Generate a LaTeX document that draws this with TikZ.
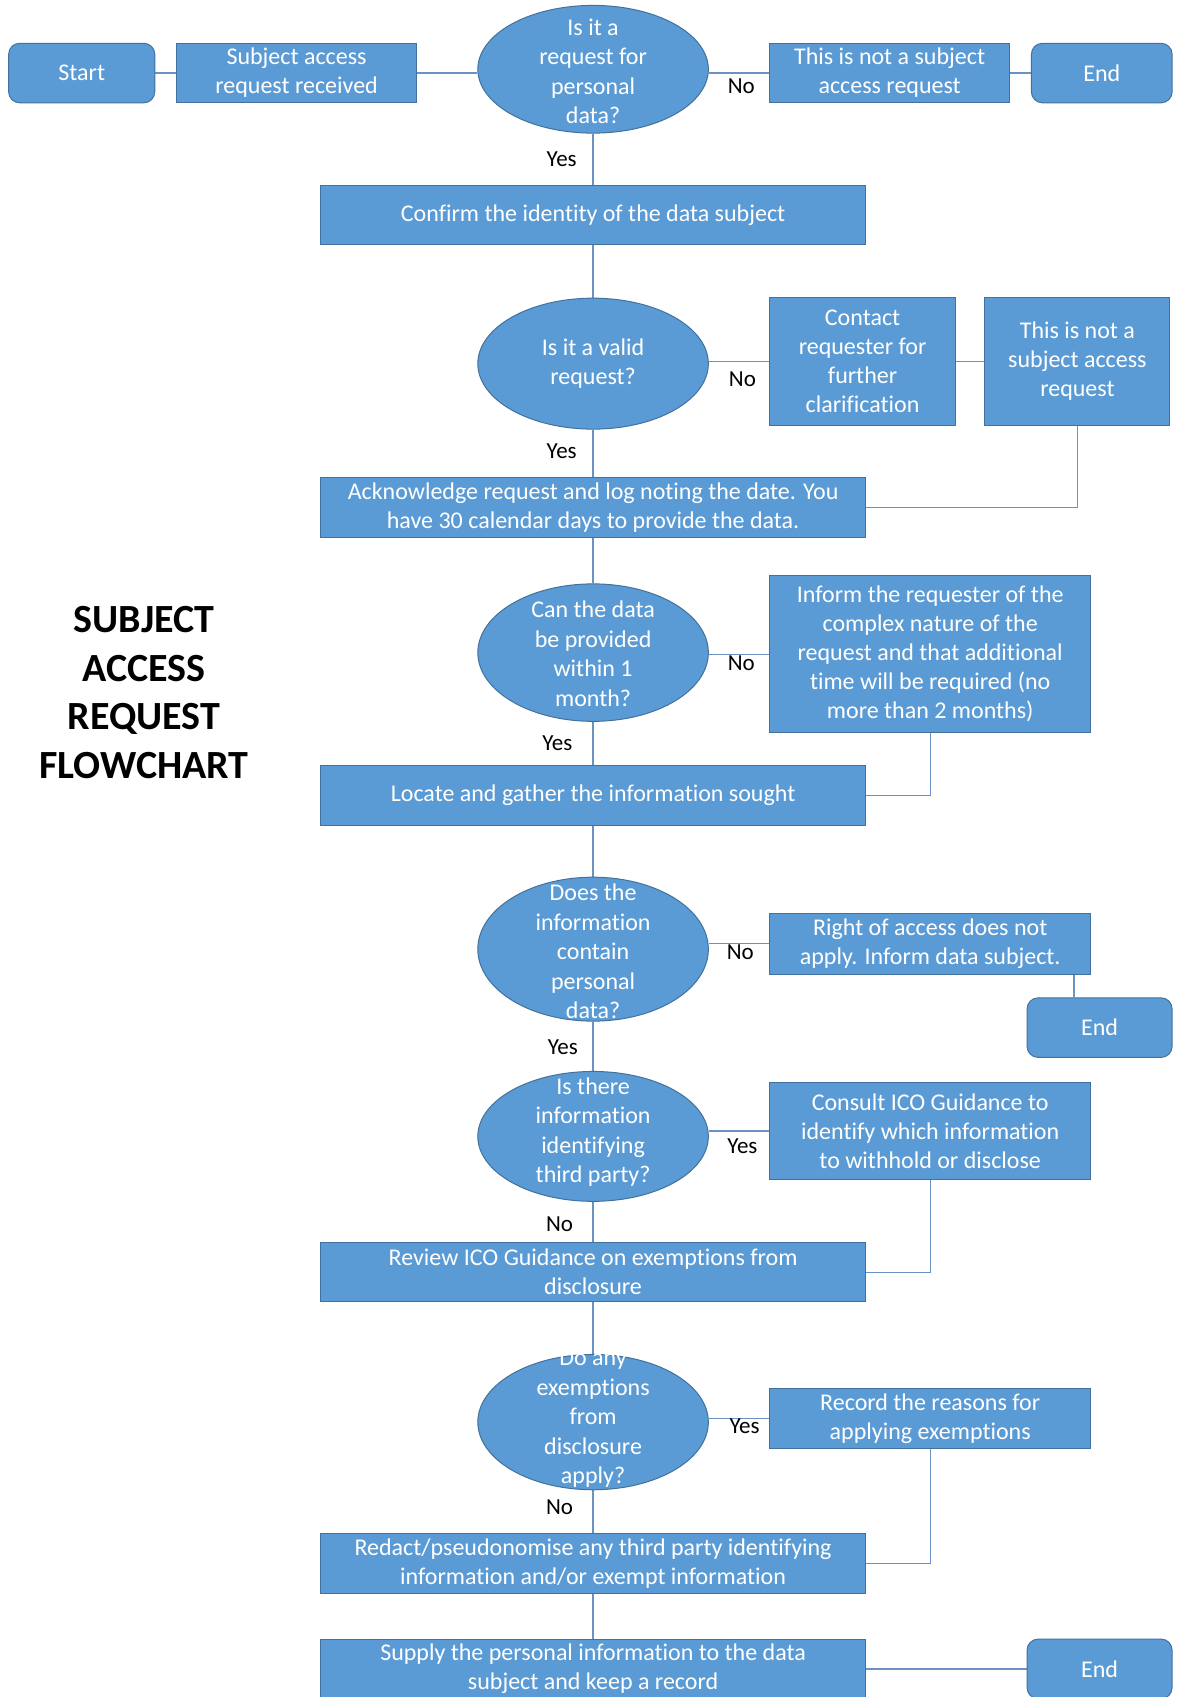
\documentclass[tikz,border=0pt]{standalone}
\usepackage{fontspec}
\setmainfont{Carlito}[Ligatures=NoCommon]
\usetikzlibrary{shapes.geometric,backgrounds}
\definecolor{boxfill}{HTML}{5B9BD5}
\definecolor{boxdraw}{HTML}{41719C}
\definecolor{conncol}{HTML}{6A93C4}
\tikzset{
 sz/.style 2 args={minimum width=#1*1.0826pt, minimum height=#2*1.0826pt},
 box/.style={rectangle, draw=boxdraw, fill=boxfill, line width=1pt, text=white, align=center, inner sep=2pt, font=\fontsize{24}{29}\selectfont},
 term/.style={box, rounded corners=11pt},
 dec/.style={ellipse, draw=boxdraw, fill=boxfill, line width=1pt, inner sep=0pt},
 dectext/.style={text=white, align=center, inner sep=0pt, font=\fontsize{24}{29.5}\selectfont},
 lab/.style={text=black, inner sep=0pt, font=\fontsize{23}{27}\selectfont},
 conn/.style={draw=conncol, line width=1.3pt},
 titletext/.style={font=\bfseries\fontsize{40}{48.5}\selectfont, align=center, inner sep=0pt}
}
\begin{document}
\begin{tikzpicture}[x=1.0826pt,y=-1.0826pt]
\useasboundingbox (0,0) rectangle (1089,1568);

% row 1
\node[term, sz={135}{55}] (start) at (75.5,67.5) {Start};
\node[box, sz={222}{55}] (sar) at (274,67.5) {Subject access\\request received};
\node[dec, sz={213}{118}] (d1) at (548,64) {};
\node[dectext] (d1t) at (548,66) {Is it a\\request for\\personal\\data?};
\node[box, sz={222}{55}] (nsar1) at (822,67.5) {This is not a subject\\access request};
\node[term, sz={130}{55}] (end1) at (1018,67.5) {End};

\node[box, sz={504}{55}] (confirm) at (548,198.5) {Confirm the identity of the data subject};

% valid request
\node[dec, sz={213}{121}] (d2) at (548,336) {};
\node[dectext] (d2t) at (548,336) {Is it a valid\\request?};
\node[box, sz={172}{118}] (contact) at (797,334) {Contact\\requester for\\further\\clarification};
\node[box, sz={171}{118}] (nsar2) at (995.5,334) {This is not a\\subject access\\request};

\node[box, sz={504}{56}] (ack) at (548,469) {Acknowledge request and log noting the date. You\\have 30 calendar days to provide the data.};

% one month
\node[dec, sz={213}{127}] (d3) at (548,603) {};
\node[dectext] (d3t) at (548,604) {Can the data\\be provided\\within 1\\month?};
\node[box, sz={297}{145}] (inform) at (859.5,604.5) {Inform the requester of the\\complex nature of the\\request and that additional\\time will be required (no\\more than 2 months)};

\node[box, sz={504}{56}] (locate) at (548,735) {Locate and gather the information sought};

% personal data
\node[dec, sz={213}{133}] (d4) at (548,877) {};
\node[dectext] (d4t) at (548,879) {Does the\\information\\contain\\personal\\data?};
\node[box, sz={297}{56}] (right) at (859.5,872) {Right of access does not\\apply. Inform data subject.};
\node[term, sz={134}{55}] (end2) at (1016,949.5) {End};

% third party
\node[dec, sz={213}{120}] (d5) at (548,1050) {};
\node[dectext] (d5t) at (548,1046) {Is there\\information\\identifying\\third party?};
\node[box, sz={297}{90}] (consult) at (859.5,1045) {Consult ICO Guidance to\\identify which information\\to withhold or disclose};

\node[box, sz={504}{55}] (review) at (548,1175.5) {Review ICO Guidance on exemptions from\\disclosure};

% exemptions
\node[dec, sz={213}{125}] (d6) at (548,1314) {};
\node[dectext] (d6t) at (548,1311) {Do any\\exemptions\\from\\disclosure\\apply?};
\node[box, sz={297}{55}] (record) at (859.5,1310.5) {Record the reasons for\\applying exemptions};

\node[box, sz={504}{55}] (redact) at (548,1444.5) {Redact/pseudonomise any third party identifying\\information and/or exempt information};
\node[box, sz={504}{55}] (supply) at (548,1542) {Supply the personal information to the data\\subject and keep a record};
\node[term, sz={134}{55}] (end3) at (1016,1542) {End};

% title
\node[titletext] (title) at (133,640) {SUBJECT\\ACCESS\\REQUEST\\FLOWCHART};

% labels
\node[lab] (l1) at (685,80) {No};
\node[lab] (l2) at (519,147) {Yes};
\node[lab] (l3) at (686,350) {No};
\node[lab] (l4) at (519,417) {Yes};
\node[lab] (l5) at (685,613) {No};
\node[lab] (l6) at (515,687) {Yes};
\node[lab] (l7) at (684,880) {No};
\node[lab] (l8) at (520,968) {Yes};
\node[lab] (l9) at (686,1059) {Yes};
\node[lab] (l10) at (517,1131) {No};
\node[lab] (l11) at (688,1318) {Yes};
\node[lab] (l12) at (517,1393) {No};

\begin{scope}[on background layer]
\fill[white] (0,0) rectangle (1089,1568);
\draw[conn] (start.east) -- (sar.west);
\draw[conn] (sar.east) -- (sar.east -| d1.west);
\draw[conn] (nsar1.west -| d1.east) -- (nsar1.west);
\draw[conn] (nsar1.east) -- (end1.west);
\draw[conn] (d1.south) -- (confirm.north);
\draw[conn] (confirm.south) -- (d2.north);
\draw[conn] (contact.west -| d2.east) -- (contact.west);
\draw[conn] (contact.east) -- (nsar2.west);
\draw[conn] (d2.south) -- (ack.north);
\draw[conn] (nsar2.south) |- (ack.east);
\draw[conn] (ack.south) -- (d3.north);
\draw[conn] (inform.west -| d3.east) -- (inform.west);
\draw[conn] (inform.south) |- (locate.east);
\draw[conn] (d3.south) -- (locate.north);
\draw[conn] (locate.south) -- (d4.north);
\draw[conn] (right.west -| d4.east) -- (right.west);
\draw[conn] ([xshift=-17.3pt]right.south east) -- ([xshift=-17.3pt]right.south east |- end2.north);
\draw[conn] (d4.south) -- (d5.north);
\draw[conn] (consult.west -| d5.east) -- (consult.west);
\draw[conn] (consult.south) |- (review.east);
\draw[conn] (d5.south) -- (review.north);
\draw[conn] (review.south) -- (d6.north);
\draw[conn] (record.west -| d6.east) -- (record.west);
\draw[conn] (record.south) |- (redact.east);
\draw[conn] (d6.south) -- (redact.north);
\draw[conn] (redact.south) -- (supply.north);
\draw[conn] (supply.east) -- (end3.west);
\end{scope}
\end{tikzpicture}
\end{document}
